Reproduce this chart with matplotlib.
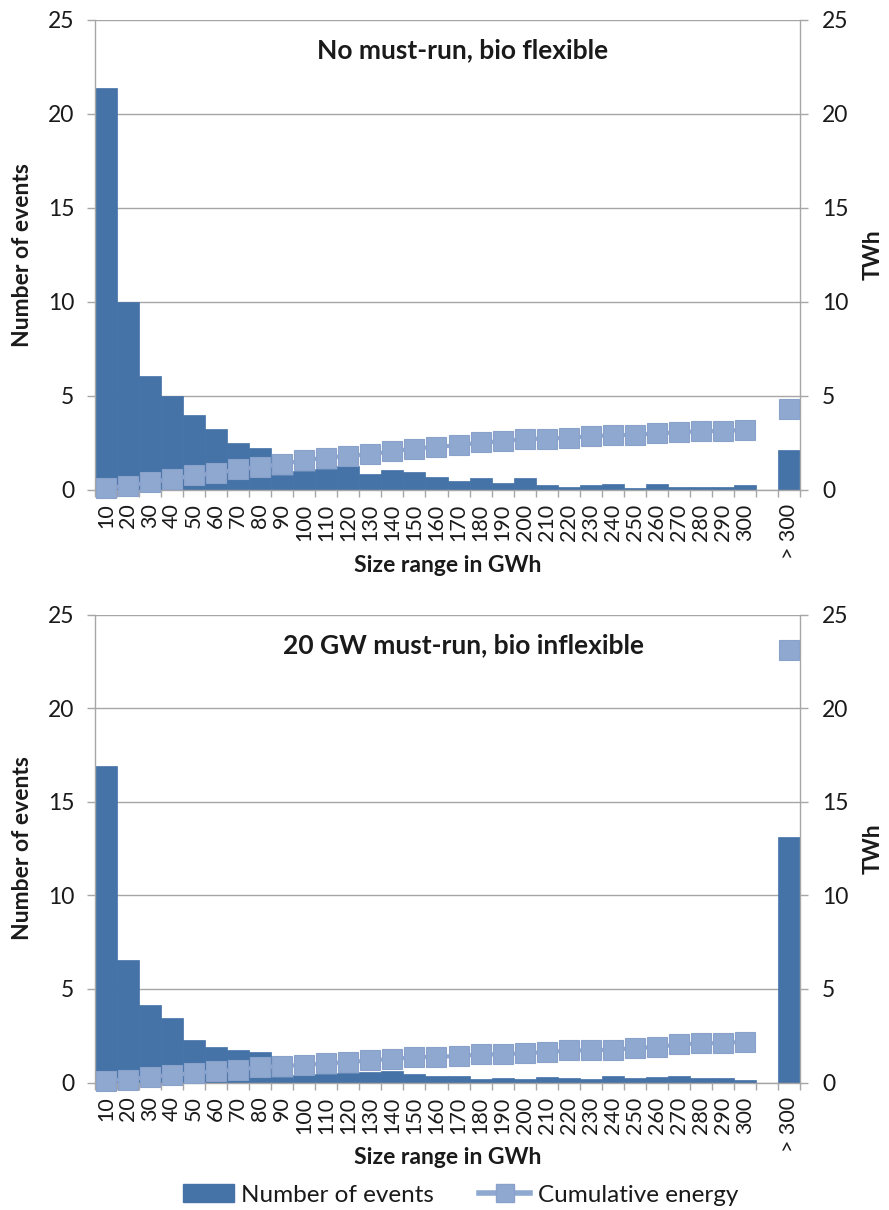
import numpy as np
import matplotlib
matplotlib.use("Agg")
import matplotlib.pyplot as plt
from matplotlib.lines import Line2D
from matplotlib.patches import Patch

plt.rcParams['font.family'] = ['Lato', 'DejaVu Sans']

categories = [str(v) for v in range(10, 301, 10)] + ['', '> 300']

top_title = "No must-run, bio flexible"
top_events = [21.4, 10.0, 6.07, 5.0, 3.96, 3.2, 2.46, 2.19, 0.77, 1.0,
              1.1, 1.25, 0.85, 1.04, 0.92, 0.68, 0.47, 0.63, 0.35, 0.63,
              0.22, 0.13, 0.22, 0.28, 0.08, 0.28, 0.15, 0.15, 0.15, 0.22,
              np.nan, 2.12]
top_energy = [0.07, 0.2, 0.4, 0.56, 0.75, 0.86, 1.09, 1.21, 1.35, 1.57,
              1.69, 1.8, 1.87, 2.05, 2.17, 2.28, 2.35, 2.51, 2.56, 2.7,
              2.7, 2.76, 2.83, 2.9, 2.9, 2.99, 3.04, 3.11, 3.11, 3.18,
              np.nan, 4.27]

bot_title = "20 GW must-run, bio inflexible"
bot_events = [16.9, 6.52, 4.12, 3.42, 2.26, 1.87, 1.73, 1.64, 0.32, 0.4,
              0.43, 0.51, 0.57, 0.62, 0.48, 0.34, 0.34, 0.18, 0.23, 0.18,
              0.29, 0.23, 0.18, 0.37, 0.23, 0.3, 0.37, 0.25, 0.25, 0.15,
              np.nan, 13.1]
bot_energy = [0.1, 0.16, 0.3, 0.41, 0.5, 0.6, 0.69, 0.82, 0.88, 0.94,
              1.02, 1.09, 1.18, 1.26, 1.35, 1.37, 1.42, 1.5, 1.5, 1.57,
              1.62, 1.71, 1.71, 1.76, 1.83, 1.9, 2.03, 2.1, 2.1, 2.19,
              np.nan, 23.1]

BAR = '#4573A7'
LINE = '#8FA8D0'
GRID = '#A6A6A6'
TXT = '#1a1a1a'

W, H = 889, 1210
fig = plt.figure(figsize=(W / 100, H / 100), dpi=100)


def panel(rect, title, events, energy):
    ax = fig.add_axes(rect)
    x = np.arange(len(categories))
    ax.bar(x, np.nan_to_num(events), width=1.0, color=BAR, edgecolor=BAR,
           linewidth=0.5, zorder=2)
    ax.set_xlim(-0.5, len(categories) - 0.5)
    ax.set_ylim(0, 25)
    ax.set_yticks([0, 5, 10, 15, 20, 25])
    ax.yaxis.grid(True, color=GRID, linewidth=1)
    ax.set_axisbelow(True)
    for s in ['left', 'right', 'bottom']:
        ax.spines[s].set_color(GRID)
        ax.spines[s].set_linewidth(1)
    ax.spines['top'].set_visible(False)
    ax.set_xticks(x)
    ax.set_xticklabels(categories, rotation=90, fontsize=15.5, va='top')
    ax.set_xticks(np.arange(len(categories) + 1) - 0.5, minor=True)
    ax.tick_params(axis='x', which='major', length=0, pad=10, colors=TXT)
    ax.tick_params(axis='x', which='minor', length=5, color=GRID, width=1)
    ax.tick_params(axis='y', length=6, color=GRID, width=1, pad=9,
                   labelsize=16.5, labelcolor=TXT)
    ax.text(-0.103, 0.5, 'Number of events', transform=ax.transAxes,
            rotation=90, ha='center', va='center', fontsize=16.5,
            fontweight='bold', color=TXT)
    ax.text(0.5, -0.161, 'Size range in GWh', transform=ax.transAxes,
            ha='center', va='center', fontsize=16.5, fontweight='bold',
            color=TXT)
    ax.text(0.522, 0.935, title, transform=ax.transAxes, ha='center',
            va='center', fontsize=19, fontweight='bold', color=TXT)

    ax2 = ax.twinx()
    ax2.set_ylim(0, 25)
    ax2.set_yticks([0, 5, 10, 15, 20, 25])
    for s in ['left', 'right', 'bottom', 'top']:
        ax2.spines[s].set_visible(False)
    ax2.tick_params(axis='y', length=6, color=GRID, width=1, pad=10,
                    labelsize=16.5, labelcolor=TXT)
    ax2.plot(x, energy, color=LINE, linewidth=3, marker='s', markersize=15,
             markerfacecolor=LINE, markeredgecolor='#8AA2CB',
             markeredgewidth=0.8, clip_on=False, zorder=3)
    ax2.text(1.104, 0.5, 'TWh', transform=ax.transAxes, rotation=90,
             ha='center', va='center', fontsize=16.5, fontweight='bold',
             color=TXT)
    return ax, ax2


panel([95 / W, 1 - 489.5 / H, 705 / W, 469.5 / H], top_title, top_events, top_energy)
panel([95 / W, 1 - 1082.5 / H, 705 / W, 468 / H], bot_title, bot_events, bot_energy)

handles = [Patch(facecolor=BAR, edgecolor=BAR),
           Line2D([0], [0], color=LINE, linewidth=4, marker='s', markersize=13,
                  markerfacecolor=LINE, markeredgecolor='#8AA2CB')]
fig.legend(handles, ['Number of events', 'Cumulative energy'],
           loc='center', bbox_to_anchor=(0.518, 1 - 1195 / H), ncol=2,
           frameon=False, fontsize=17.5, handlelength=2.1, handleheight=0.7,
           columnspacing=1.85, handletextpad=0.3, labelcolor=TXT)

fig.savefig('out.png', dpi=100)
